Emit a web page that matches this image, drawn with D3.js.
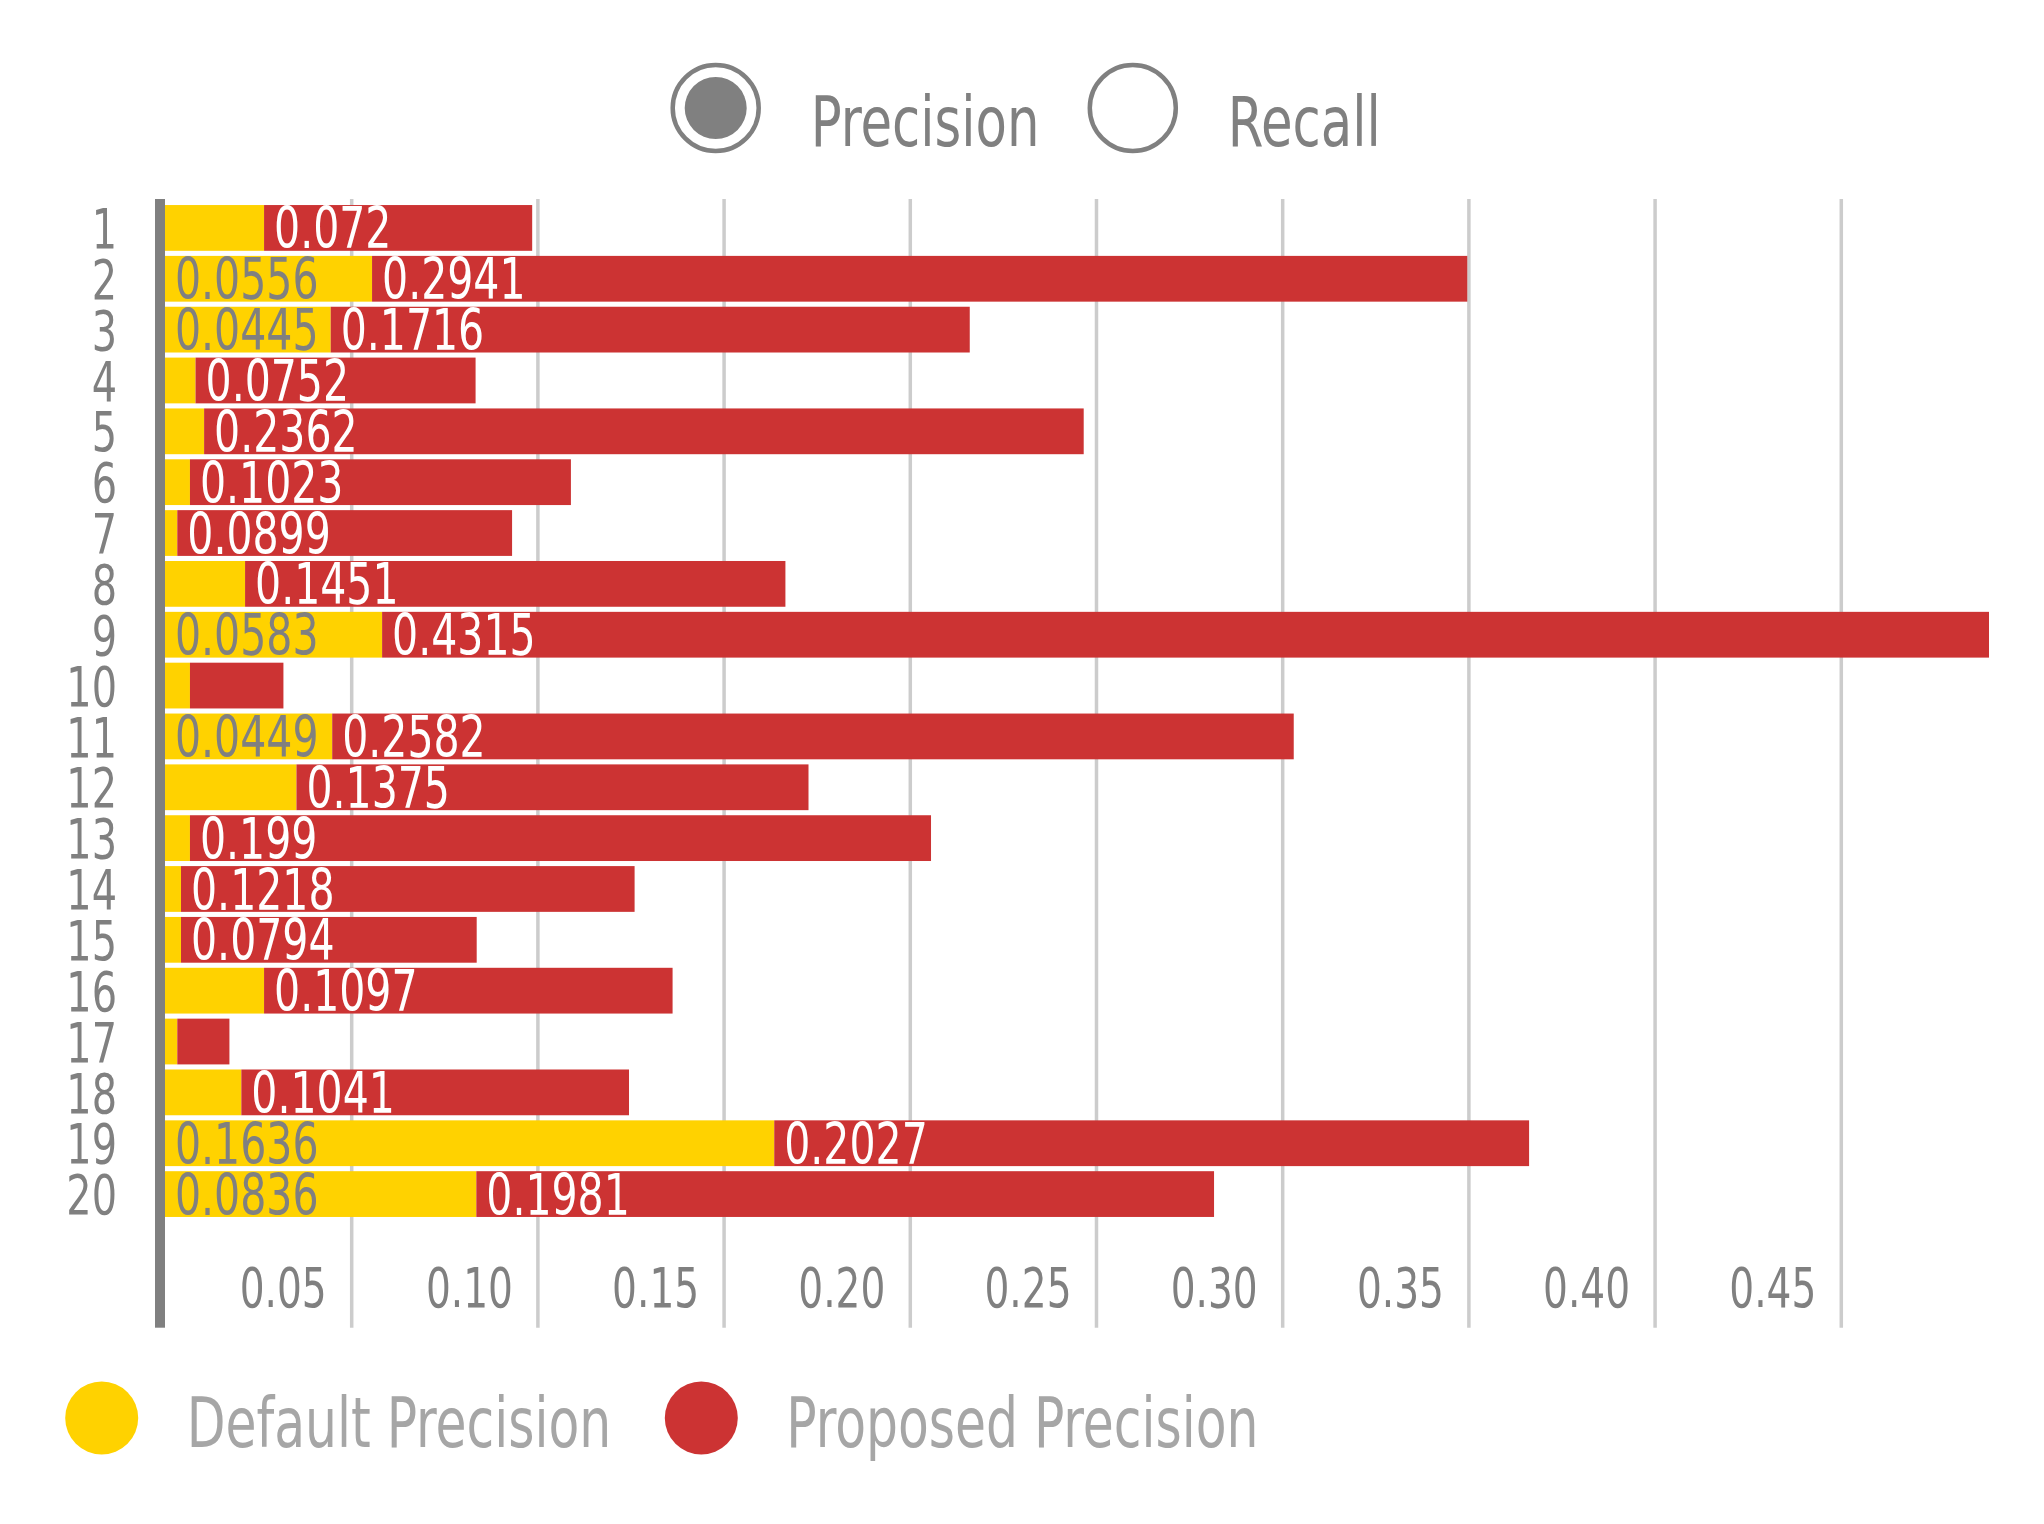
<!DOCTYPE html>
<html><head><meta charset="utf-8">
<script src="https://cdn.jsdelivr.net/npm/d3@7"></script>
<style>
body{margin:0;background:#fff;}
svg text{font-family:"Liberation Sans Narrow","DejaVu Sans Condensed","Arial Narrow",sans-serif;}
</style></head><body><svg id="c" width="2044" height="1524"></svg>
<script>
const categories = ["1","2","3","4","5","6","7","8","9","10","11","12","13","14","15","16","17","18","19","20"];
const defaultPrecision = [0.0266,0.0556,0.0445,0.0082,0.0105,0.0067,0.0033,0.0215,0.0583,0.0067,0.0449,0.0353,0.0067,0.0043,0.0043,0.0266,0.0033,0.0205,0.1636,0.0836];
const proposedPrecision = [0.072,0.2941,0.1716,0.0752,0.2362,0.1023,0.0899,0.1451,0.4315,0.0251,0.2582,0.1375,0.199,0.1218,0.0794,0.1097,0.014,0.1041,0.2027,0.1981];
const xTicks = [0.05,0.10,0.15,0.20,0.25,0.30,0.35,0.40,0.45];
const tickLabels = ["0.05","0.10","0.15","0.20","0.25","0.30","0.35","0.40","0.45"];
const seriesKeys = ["default","proposed"];
const seriesNames = ["Default Precision","Proposed Precision"];
const seriesColors = ["#FFD200","#CC3333"];
const labelColors = ["#808080","#FFFFFF"];
const toggleLabels = ["Precision","Recall"];
const toggleSelected = [true,false];

const SX = 0.8; // horizontal squeeze to imitate a narrow typeface
const svg = d3.select("#c");
const table = categories.map((c,i)=>({cat:c, default:defaultPrecision[i], proposed:proposedPrecision[i]}));
const stacked = d3.stack().keys(seriesKeys)(table);
const maxTotal = d3.max(table, d=>d.default+d.proposed);

const x = d3.scaleLinear().domain([0, maxTotal]).range([165, 1989]);
const y = d3.scaleBand().domain(categories).range([202.5, 1219.5]).paddingInner(0.1).paddingOuter(0.05);
const plotTop = 199, plotBottom = 1327.7;

function squeeze(sel, tx, ty, s){
  sel.attr("x",0).attr("y",0).attr("transform",`translate(${tx},${ty}) scale(${s},1)`);
}

// gridlines + tick labels
const xAxis = d3.axisBottom(x).tickValues(xTicks).tickSize(-(plotBottom-plotTop))
  .tickFormat((d,i)=>tickLabels[i]);
const gx = svg.append("g").attr("transform",`translate(0,${plotBottom})`).call(xAxis);
gx.select(".domain").remove();
gx.selectAll(".tick line").attr("stroke","#cccccc").attr("stroke-width",3.5);
gx.selectAll(".tick text").attr("fill","#808080").attr("font-size",55)
  .attr("text-anchor","end").attr("dy",0).call(squeeze,-25,-21,0.79);

// bars
const layers = svg.append("g").selectAll("g").data(stacked).join("g")
  .attr("fill",(d,i)=>seriesColors[i]);
layers.selectAll("rect").data(d=>d).join("rect")
  .attr("x",d=>x(d[0])).attr("width",d=>x(d[1])-x(d[0]))
  .attr("y",d=>y(d.data.cat)).attr("height",y.bandwidth());

// value labels
stacked.forEach((layer,si)=>{
  const g = svg.append("g");
  layer.forEach(d=>{
    const val = d.data[seriesKeys[si]];
    const t = g.append("text")
      .attr("dy","0.36em")
      .attr("font-size",57)
      .attr("fill",labelColors[si])
      .text(String(val))
      .call(squeeze, x(d[0]) + 10, y(d.data.cat) + y.bandwidth()/2, SX);
    const w = t.node().getComputedTextLength()*SX;
    if (w + 10 > x(d[1]) - x(d[0])) t.remove();
  });
});

// left axis (category labels + thick line)
const yAxis = d3.axisLeft(y).tickSize(0).tickPadding(38);
const gy = svg.append("g").attr("transform","translate(155,0)").call(yAxis);
gy.select(".domain").remove();
gy.selectAll(".tick text").attr("fill","#808080").attr("font-size",56).attr("dy","0.36em")
  .call(squeeze,-38,0,0.79);
svg.append("rect").attr("x",155).attr("y",plotTop).attr("width",10).attr("height",plotBottom-plotTop).attr("fill","#808080");

// top toggle legend
const toggleX = [715.7, 1132.8];
toggleLabels.forEach((lab,i)=>{
  const g = svg.append("g").attr("transform",`translate(${toggleX[i]},108)`);
  g.append("circle").attr("r",43).attr("fill","#fff").attr("stroke","#808080").attr("stroke-width",4.5);
  if (toggleSelected[i]) g.append("circle").attr("r",31).attr("fill","#808080");
  g.append("text").attr("font-size",70).attr("fill","#808080").text(lab).call(squeeze,95,38,0.815);
});

// bottom legend
const legX = [101.7, 701.3];
seriesNames.forEach((n,i)=>{
  const g = svg.append("g").attr("transform",`translate(${legX[i]},1418)`);
  g.append("circle").attr("r",36.5).attr("fill",seriesColors[i]);
  g.append("text").attr("font-size",70).attr("fill","#a6a6a6").text(n).call(squeeze,85,29,0.8);
});
</script></body></html>
